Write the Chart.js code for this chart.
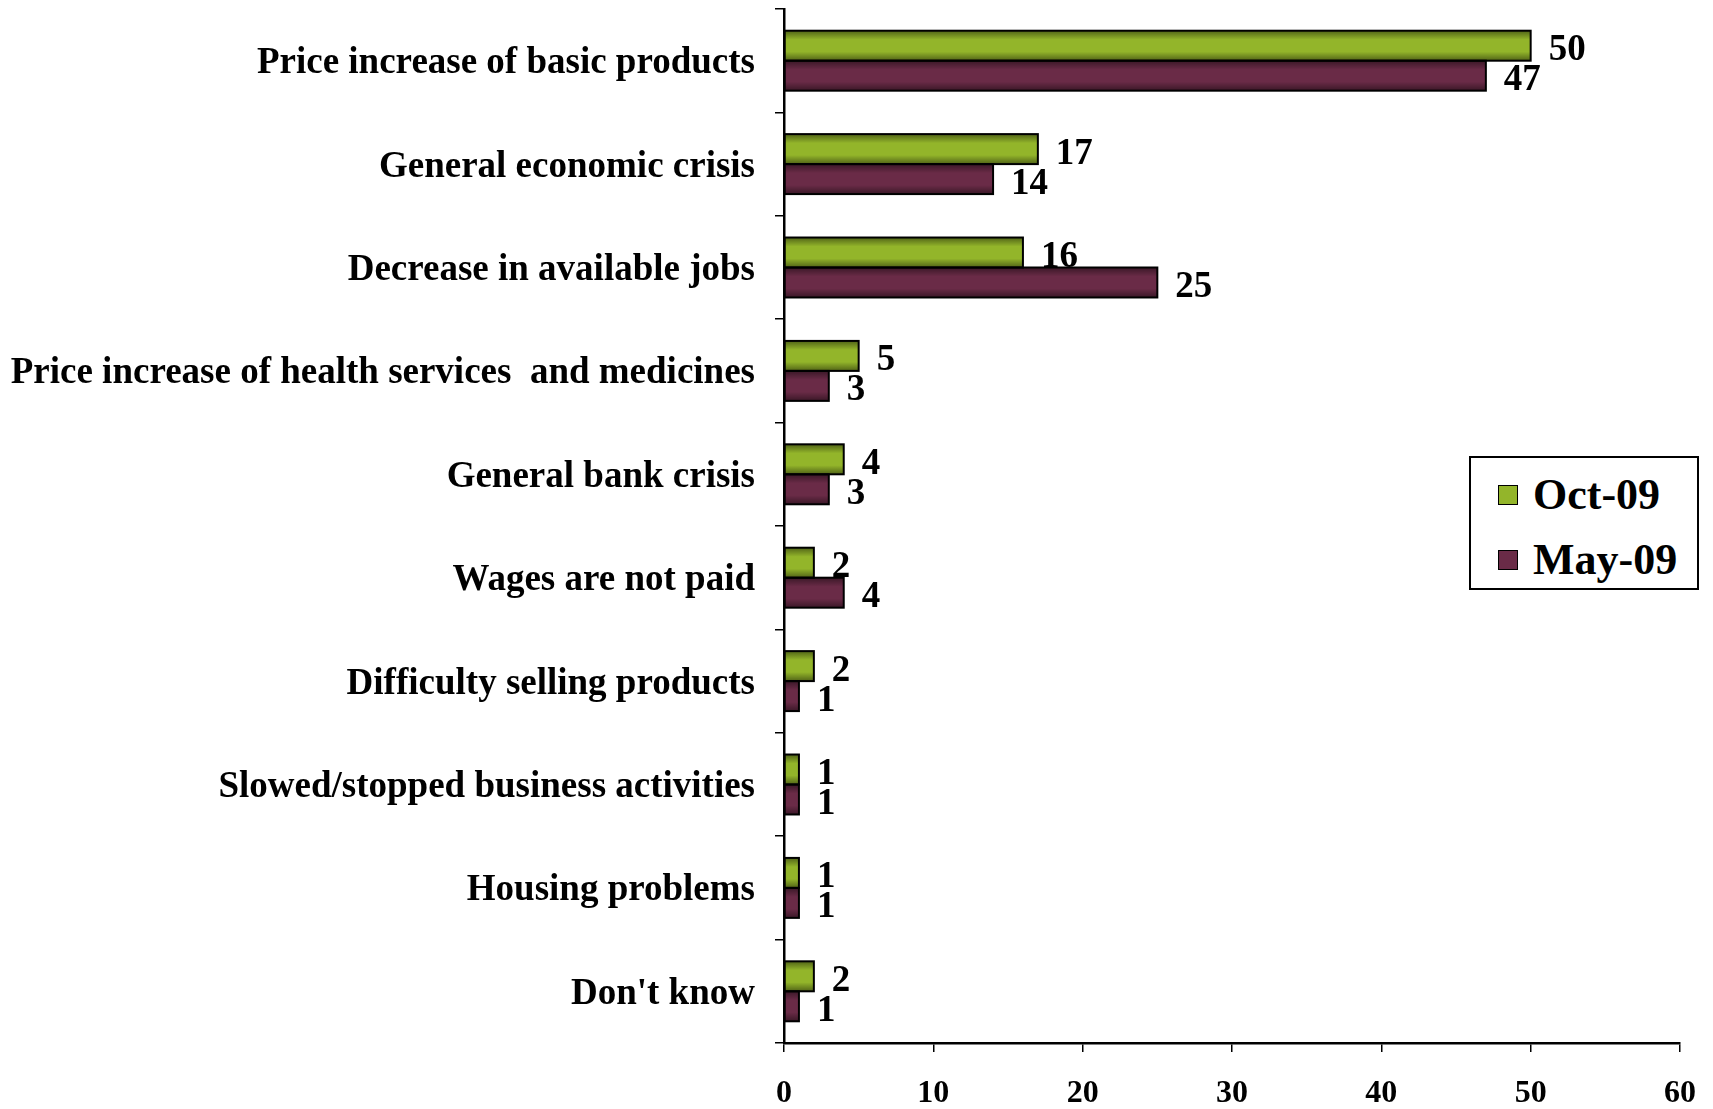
<!DOCTYPE html>
<html>
<head>
<meta charset="utf-8">
<script src="https://cdn.jsdelivr.net/npm/chart.js@4.4.1/dist/chart.umd.min.js"></script>
<style>
  html, body { margin: 0; padding: 0; background: #fff; }
  #wrap { position: relative; width: 1713px; height: 1109px; }
  #legend {
    position: absolute; left: 1469px; top: 456px; width: 226px; height: 130px;
    border: 2px solid #000; background: #fff;
    font-family: "Liberation Serif", "Times New Roman", serif; font-weight: bold; font-size: 44px;
    line-height: 50px;
  }
  #legend .item { position: absolute; left: 27px; display: flex; align-items: center; }
  #legend .box { width: 18px; height: 18px; border: 1.5px solid #000; margin-right: 15px; }
</style>
</head>
<body>
<div id="wrap">
  <canvas id="chart" width="1713" height="1109"></canvas>
  <div id="legend"></div>
</div>
<script>
const categories = [
  'Price increase of basic products',
  'General economic crisis',
  'Decrease in available jobs',
  'Price increase of health services  and medicines',
  'General bank crisis',
  'Wages are not paid',
  'Difficulty selling products',
  'Slowed/stopped business activities',
  'Housing problems',
  "Don't know"
];
const seriesNames = ['Oct-09', 'May-09'];
const oct09 = [50, 17, 16, 5, 4, 2, 2, 1, 1, 2];
const may09 = [47, 14, 25, 3, 3, 4, 1, 1, 1, 1];
const xTicks = [0, 10, 20, 30, 40, 50, 60];

const colors = ['#93b52a', '#6a2b47'];
const serif = '"Liberation Serif", "Times New Roman", serif';

// shading + value labels on top of the bars
const barDecor = {
  id: 'barDecor',
  afterDatasetsDraw(chart) {
    const ctx = chart.ctx;
    chart.data.datasets.forEach((ds, di) => {
      const meta = chart.getDatasetMeta(di);
      meta.data.forEach((bar, i) => {
        const p = bar.getProps(['x', 'y', 'base', 'height'], true);
        const top = p.y - p.height / 2;
        const g = ctx.createLinearGradient(0, top, 0, top + p.height);
        g.addColorStop(0, 'rgba(0,0,0,0.45)');
        g.addColorStop(0.3, 'rgba(0,0,0,0)');
        g.addColorStop(0.7, 'rgba(0,0,0,0)');
        g.addColorStop(1, 'rgba(0,0,0,0.45)');
        ctx.save();
        ctx.fillStyle = g;
        ctx.fillRect(p.base, top, p.x - p.base, p.height);
        ctx.lineWidth = 2;
        ctx.strokeStyle = '#000';
        ctx.strokeRect(p.base, top, p.x - p.base, p.height);
        ctx.fillStyle = '#000';
        ctx.font = 'bold 37px ' + serif;
        ctx.textAlign = 'left';
        ctx.textBaseline = 'middle';
        ctx.fillText(String(ds.data[i]), p.x + 18, p.y + 5);
        ctx.restore();
      });
    });
  }
};

const chart = new Chart(document.getElementById('chart'), {
  type: 'bar',
  data: {
    labels: categories,
    datasets: [
      { label: seriesNames[0], data: oct09, backgroundColor: colors[0] },
      { label: seriesNames[1], data: may09, backgroundColor: colors[1] }
    ]
  },
  options: {
    indexAxis: 'y',
    responsive: false,
    animation: false,
    layout: { padding: { top: 9, right: 33, left: 0, bottom: 0 } },
    datasets: {
      bar: { categoryPercentage: 0.58, barPercentage: 1.0, borderWidth: 0, borderSkipped: false }
    },
    scales: {
      x: {
        min: 0, max: 60,
        afterBuildTicks: (axis) => { axis.ticks = xTicks.map(v => ({ value: v })); },
        grid: { drawOnChartArea: false, tickLength: 9, color: '#000', lineWidth: 1.5 },
        border: { display: true, color: '#000', width: 2.5 },
        ticks: { color: '#000', padding: 23, font: { family: serif, weight: 'bold', size: 32 } },
        afterFit: (axis) => { axis.height = 66; axis.paddingLeft = 0; axis.paddingRight = 0; }
      },
      y: {
        grid: { offset: true, drawOnChartArea: false, tickLength: 9, color: '#000', lineWidth: 1.5 },
        border: { display: true, color: '#000', width: 2.5 },
        ticks: { color: '#000', padding: 20, labelOffset: 3, font: { family: serif, weight: 'bold', size: 37 } },
        afterFit: (axis) => { axis.width = 784; axis.paddingTop = 0; axis.paddingBottom = 0; }
      }
    },
    plugins: {
      legend: { display: false },
      tooltip: { enabled: false }
    }
  },
  plugins: [barDecor]
});

// HTML legend from the datasets
const legendEl = document.getElementById('legend');
chart.data.datasets.forEach((ds, i) => {
  const item = document.createElement('div');
  item.className = 'item';
  item.style.top = (i === 0 ? 12 : 77) + 'px';
  const box = document.createElement('span');
  box.className = 'box';
  box.style.background = ds.backgroundColor;
  const txt = document.createElement('span');
  txt.textContent = ds.label;
  item.appendChild(box);
  item.appendChild(txt);
  legendEl.appendChild(item);
});
</script>
</body>
</html>
